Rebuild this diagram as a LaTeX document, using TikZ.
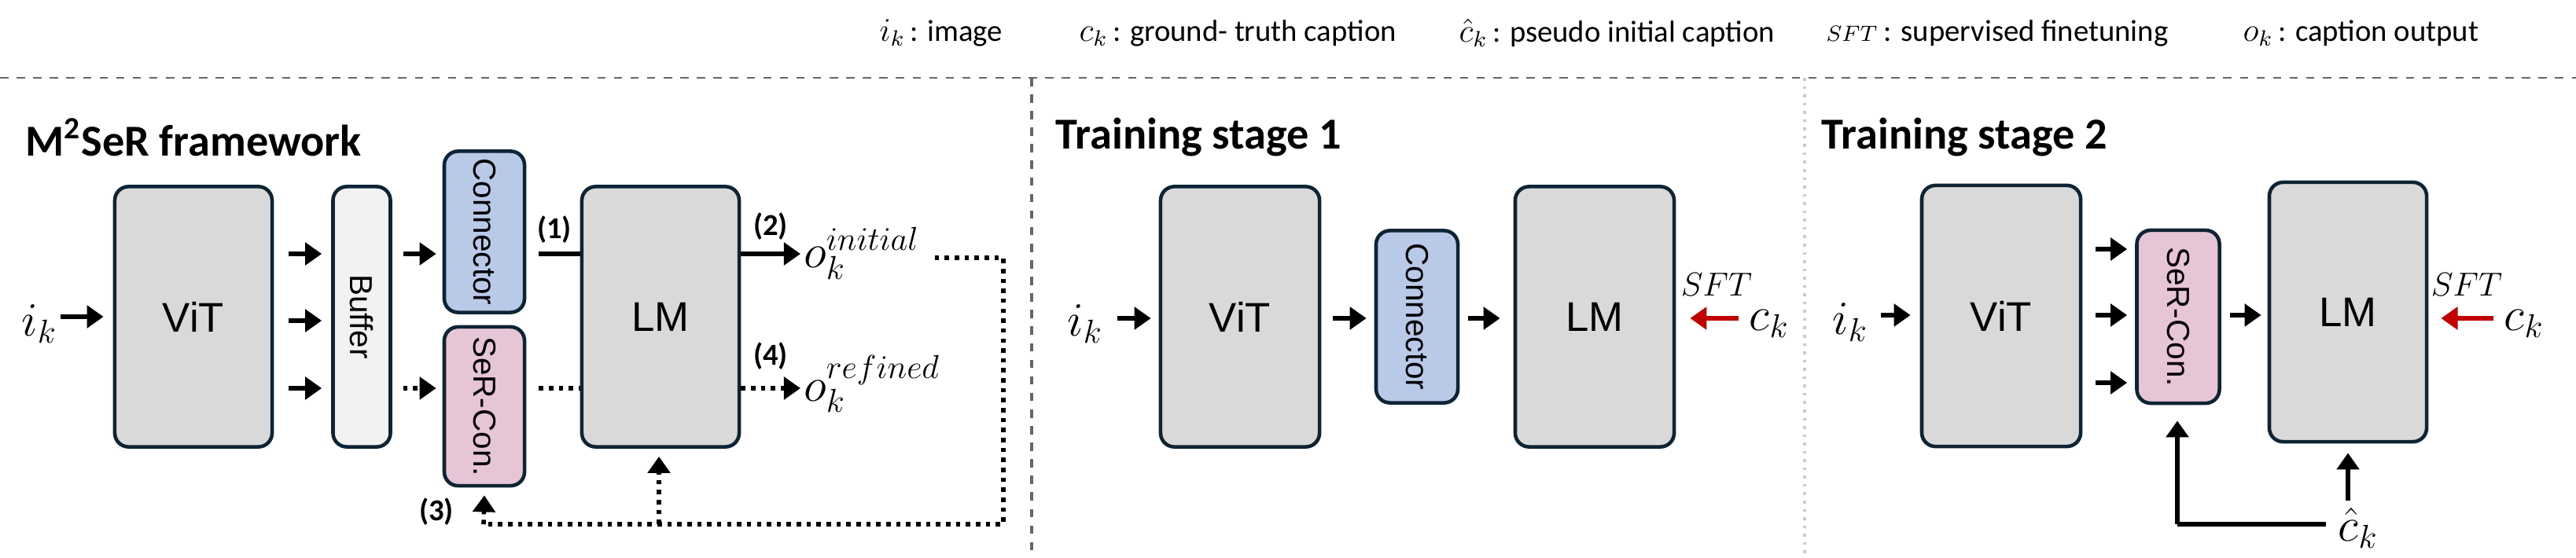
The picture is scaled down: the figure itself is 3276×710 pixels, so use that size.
\documentclass[tikz,border=0pt]{standalone}
\usepackage{fontspec}
\setmainfont{Carlito}
\newfontfamily\boxfont{Liberation Sans}
\usetikzlibrary{arrows.meta}
\definecolor{edge}{HTML}{0D2434}
\definecolor{gbox}{HTML}{D9D9D9}
\definecolor{bbox}{HTML}{F2F2F2}
\definecolor{cbox}{HTML}{B9CAE8}
\definecolor{sbox}{HTML}{E6C5D6}
\definecolor{sftred}{HTML}{C00000}
\begin{document}
\begin{tikzpicture}[x=0.01cm,y=-0.01cm,
  box/.style={draw=edge,line width=1.3pt,rounded corners=5pt,inner sep=0pt,font=\boxfont\fontsize{15}{15}\selectfont},
  rt/.style={rotate=-90,font=\boxfont\fontsize{11.5}{12}\selectfont},
  arr/.style={line width=1.6pt,-{Triangle[length=6pt,width=8pt]}},
  darr/.style={arr,dotted},
  lbl/.style={font=\bfseries\fontsize{11}{11}\selectfont,inner sep=1pt},
  ttl/.style={anchor=west,font=\bfseries\fontsize{16}{16}\selectfont,inner sep=0pt},
  mth/.style={font=\fontsize{17}{17}\selectfont,inner sep=1pt},
  leg/.style={anchor=west,font=\fontsize{11}{12}\selectfont,inner sep=0pt}]
\useasboundingbox (0,0) rectangle (3276,710);
% legend
\node[leg] (l1) at (1118,42) {{\large$i_k$}\,: image};
\node[leg] (l2) at (1372,42) {{\large$c_k$}\,: ground- truth caption};
\node[leg] (l3) at (1855,42) {{\large$\hat c_k$}\,: pseudo initial caption};
\node[leg] (l4) at (2322,42) {{\footnotesize$SFT$}\ : supervised finetuning};
\node[leg] (l5) at (2852,42) {{\large$o_k$}\,: caption output};
\draw[gray!80!black,dashed,line width=0.8pt] (0,99) -- (3276,99);
\draw[gray!80!black,dashed,line width=1pt] (1312,99) -- (1312,710);
\draw[gray!40,dotted,line width=1pt] (2295,99) -- (2295,710);
% ===== framework
\node[ttl] (t1) at (32,175) {M\textsuperscript{2}SeR framework};
\node[box,fill=gbox,minimum width=2cm,minimum height=3.31cm] (vit1) at (246,403) {ViT};
\node[box,fill=bbox,minimum width=0.73cm,minimum height=3.31cm] (buf) at (460,403) {};
\node[rt] (buft) at (buf.center) {Buffer};
\node[box,fill=cbox,minimum width=1.02cm,minimum height=2.05cm] (conn1) at (616,295) {};
\node[rt] (conn1t) at (conn1.center) {Connector};
\node[box,fill=sbox,minimum width=1.02cm,minimum height=2.02cm] (ser1) at (616,517) {};
\node[rt] (ser1t) at (ser1.center) {SeR-Con.};
\node[box,fill=gbox,minimum width=2cm,minimum height=3.31cm] (lm1) at (840,403) {LM};
\node[mth] (ik1) at (50,412) {$i_k$};
\draw[arr] (ik1.east |- 0,403) -- ([xshift=-0.12cm]vit1.west |- 0,403);
\foreach \yy in {323,408,494}{\draw[arr] ([xshift=0.19cm]vit1.east |- 0,\yy) -- ([xshift=-0.12cm]buf.west |- 0,\yy);}
\draw[arr] ([xshift=0.14cm]buf.east |- 0,323) -- ([xshift=-0.08cm]conn1.west |- 0,323);
\draw[darr] ([xshift=0.14cm]buf.east |- 0,494) -- ([xshift=-0.08cm]conn1.west |- 0,494);
\draw[line width=1.6pt] ([xshift=0.16cm]conn1.east |- 0,323) -- (lm1.west |- 0,323);
\draw[line width=1.6pt,dotted] ([xshift=0.16cm]ser1.east |- 0,494) -- (lm1.west |- 0,494);
\node[lbl] (n1) at (705,292) {(1)};
\node[mth,anchor=west] (oi) at (1018,322) {$o_k^{initial}$};
\node[mth,anchor=west] (orf) at (1018,488) {$o_k^{refined}$};
\draw[arr] (lm1.east |- 0,323) -- (oi.west |- 0,323);
\draw[darr] (lm1.east |- 0,494) -- (orf.west |- 0,494);
\node[lbl] (n2) at (980,288) {(2)};
\node[lbl] (n4) at (980,453) {(4)};
\node[lbl] (n3) at (555,651) {(3)};
\coordinate (d1) at (1276,328);
\coordinate (d2) at (1276,667);
\coordinate (d3) at (615,667);
\coordinate (d4) at (838,667);
\draw[line width=1.6pt,dotted] ([xshift=0.15cm]oi.east |- d1) -- (d1) -- (d2) -- (d3);
\draw[darr] (d3) -- ([yshift=-0.1cm]ser1.south);
\draw[darr] (d4) -- ([yshift=-0.1cm]lm1.south -| d4);
% ===== stage 1
\node[ttl] (t2) at (1342,175) {Training stage 1};
\node[box,fill=gbox,minimum width=2.02cm,minimum height=3.31cm] (vit2) at (1577,403) {ViT};
\node[box,fill=cbox,minimum width=1.04cm,minimum height=2.19cm] (conn2) at (1802,403) {};
\node[rt] (conn2t) at (conn2.center) {Connector};
\node[box,fill=gbox,minimum width=2.02cm,minimum height=3.31cm] (lm2) at (2028,403) {LM};
\node[mth] (ik2) at (1380,412) {$i_k$};
\draw[arr] ([xshift=0.14cm]ik2.east |- 0,405) -- ([xshift=-0.1cm]vit2.west |- 0,405);
\draw[arr] ([xshift=0.15cm]vit2.east |- 0,405) -- ([xshift=-0.1cm]conn2.west |- 0,405);
\draw[arr] ([xshift=0.11cm]conn2.east |- 0,405) -- ([xshift=-0.17cm]lm2.west |- 0,405);
\node[mth] (ck2) at (2250,412) {$c_k$};
\draw[arr,sftred] ([xshift=-0.1cm]ck2.west |- 0,405) -- ([xshift=0.18cm]lm2.east |- 0,405);
\node[font=\fontsize{12}{12}\selectfont] (sft2) at (2183,362) {$SFT$};
% ===== stage 2
\node[ttl] (t3) at (2316,175) {Training stage 2};
\node[box,fill=gbox,minimum width=2.02cm,minimum height=3.32cm] (vit3) at (2545,402) {ViT};
\node[box,fill=sbox,minimum width=1.05cm,minimum height=2.2cm] (ser3) at (2770,403) {};
\node[rt] (ser3t) at (ser3.center) {SeR-Con.};
\node[box,fill=gbox,minimum width=2cm,minimum height=3.3cm] (lm3) at (2986,397) {LM};
\node[mth] (ik3) at (2353,410) {$i_k$};
\draw[arr] ([xshift=0.12cm]ik3.east |- 0,401) -- ([xshift=-0.12cm]vit3.west |- 0,401);
\foreach \yy in {317,401,487}{\draw[arr] ([xshift=0.17cm]vit3.east |- 0,\yy) -- ([xshift=-0.1cm]ser3.west |- 0,\yy);}
\draw[arr] ([xshift=0.11cm]ser3.east |- 0,401) -- ([xshift=-0.08cm]lm3.west |- 0,401);
\node[mth] (ck3) at (3210,412) {$c_k$};
\draw[arr,sftred] ([xshift=-0.1cm]ck3.west |- 0,405) -- ([xshift=0.16cm]lm3.east |- 0,405);
\node[font=\fontsize{12}{12}\selectfont] (sft3) at (3137,362) {$SFT$};
\node[mth] (chat) at (2999,672) {$\hat c_k$};
\coordinate (h1) at (2769,667);
\draw[line width=1.6pt] ([xshift=-0.12cm]chat.west |- h1) -- (h1);
\draw[arr] (h1) -- ([yshift=-0.2cm]ser3.south -| h1);
\draw[arr] ([yshift=0.05cm]chat.north -| lm3.south) -- ([yshift=-0.12cm]lm3.south);
\end{tikzpicture}
\end{document}
